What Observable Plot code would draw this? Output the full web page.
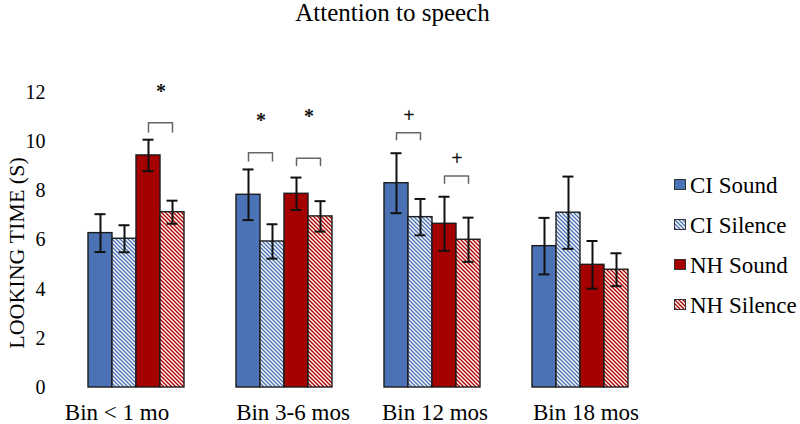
<!DOCTYPE html>
<html><head><meta charset="utf-8">
<script src="https://cdn.jsdelivr.net/npm/d3@7"></script>
<script src="https://cdn.jsdelivr.net/npm/@observablehq/plot@0.6"></script>
<style>
body{margin:0;background:#fff;}
#wrap{position:relative;width:800px;height:424px;font-family:"Liberation Serif","Times New Roman",serif;color:#000;overflow:hidden;background:#fff}
#title{height:40px;line-height:26px;font-size:25px;width:785px;text-align:center;}
#legend{position:absolute;left:674px;top:0;}
.item{position:absolute;left:0;white-space:nowrap;font-size:23px;line-height:22px;}
.item svg{vertical-align:3px;margin-right:4px}
</style></head>
<body>
<div id="wrap">
<svg width="0" height="0" style="position:absolute"><defs>
<pattern id="hatch-ci" patternUnits="userSpaceOnUse" width="4" height="4">
<rect width="4" height="4" fill="#fff"/>
<path d="M-1,-1L5,5M3,-1L5,1M-1,3L1,5" stroke="#4a72b4" stroke-width="1.4"/>
</pattern>
<pattern id="hatch-nh" patternUnits="userSpaceOnUse" width="4" height="4">
<rect width="4" height="4" fill="#fff"/>
<path d="M-1,-1L5,5M3,-1L5,1M-1,3L1,5" stroke="#b00000" stroke-width="1.4"/>
</pattern>
</defs></svg>
<div id="title">Attention to speech</div>
<div id="chart"></div>
<div id="legend"></div>
</div>
<script>
// ---- data ----
const groups = ["Bin < 1 mo", "Bin 3-6 mos", "Bin 12 mos", "Bin 18 mos"];
const series = ["CI Sound", "CI Silence", "NH Sound", "NH Silence"];
const ciSound      = [6.28, 7.84, 8.31, 5.75];
const ciSoundErr   = [0.77, 1.03, 1.22, 1.15];
const ciSilence    = [6.05, 5.94, 6.93, 7.11];
const ciSilenceErr = [0.55, 0.70, 0.74, 1.47];
const nhSound      = [9.44, 7.88, 6.66, 4.99];
const nhSoundErr   = [0.64, 0.66, 1.10, 0.97];
const nhSilence    = [7.13, 6.96, 6.01, 4.79];
const nhSilenceErr = [0.47, 0.62, 0.90, 0.67];
const yTicks = [0, 2, 4, 6, 8, 10, 12];
const yLabel = "LOOKING TIME (S)";
const title = "Attention to speech";
// significance annotations (bracket between two adjacent bars)
const sigGroup = ["Bin < 1 mo", "Bin 3-6 mos", "Bin 3-6 mos", "Bin 12 mos", "Bin 12 mos"];
const sigFrom  = ["NH Sound", "CI Sound", "NH Sound", "CI Sound", "NH Sound"];
const sigTo    = ["NH Silence", "CI Silence", "NH Silence", "CI Silence", "NH Silence"];
const sigTop   = [10.77, 9.55, 9.33, 10.36, 8.60];
const sigFoot  = [10.39, 9.21, 9.03, 10.08, 8.31];
const sigLabel = ["*", "*", "*", "+", "+"];
const sigLabelY = [12.05, 10.86, 11.00, 11.07, 9.33];

// ---- styles ----
const fills = ["#4a72b4", "url(#hatch-ci)", "#a50000", "url(#hatch-nh)"];
const labelNudge = [-19, 9, 3, 6];
const font = "'Liberation Serif','Times New Roman',serif";

document.getElementById("title").textContent = title;

const means = [ciSound, ciSilence, nhSound, nhSilence];
const errs = [ciSoundErr, ciSilenceErr, nhSoundErr, nhSilenceErr];
const rows = [];
groups.forEach((g, i) => series.forEach((s, j) => rows.push({group: g, series: s, mean: means[j][i], err: errs[j][i]})));
const sig = sigGroup.map((g, k) => ({k, group: g, from: sigFrom[k], to: sigTo[k], top: sigTop[k], foot: sigFoot[k], label: sigLabel[k], labelY: sigLabelY[k]}));
const brackets = sig.flatMap(d => [
  {k: d.k, group: d.group, series: d.from, y: d.foot},
  {k: d.k, group: d.group, series: d.from, y: d.top},
  {k: d.k, group: d.group, series: d.to, y: d.top},
  {k: d.k, group: d.group, series: d.to, y: d.foot}
]);

const chart = Plot.plot({
  width: 800, height: 384,
  marginLeft: 61, marginRight: 145, marginTop: 52, marginBottom: 37,
  style: {fontFamily: font, background: "transparent", color: "#000", overflow: "visible"},
  fx: {domain: groups, paddingInner: 0.33, paddingOuter: 0.165, label: null},
  x: {domain: series, padding: 0, axis: null},
  y: {domain: [0, 12]},
  color: {domain: series, range: fills},
  marks: [
    Plot.barY(rows, {fx: "group", x: "series", y: "mean", fill: "series", stroke: "#1c1c1c", strokeWidth: 1.4}),
    Plot.ruleX(rows, {fx: "group", x: "series", y1: d => d.mean - d.err, y2: d => d.mean + d.err, stroke: "#111", strokeWidth: 2}),
    Plot.tickY(rows, {fx: "group", x: "series", y: d => d.mean + d.err, inset: 6.5, stroke: "#111", strokeWidth: 2}),
    Plot.tickY(rows, {fx: "group", x: "series", y: d => d.mean - d.err, inset: 6.5, stroke: "#111", strokeWidth: 2}),
    Plot.line(brackets, {fx: "group", x: "series", y: "y", z: "k", stroke: "#666", strokeWidth: 1.5}),
    Plot.text(sig, {fx: "group", x: "from", y: "labelY", text: "label", dx: 12.5, fontSize: 20, fontWeight: "bold", fill: "#111", fontFamily: font}),
    Plot.axisY({ticks: yTicks, tickSize: 0, tickPadding: 16, dx: -25, fontSize: 20, fontFamily: font, label: null, fill: "#000"}),
    Plot.text([yLabel], {fx: () => groups[0], frameAnchor: "left", textAnchor: "middle", rotate: -90, dx: -70, dy: 13, fontSize: 22, fontFamily: font, fill: "#000"}),
    ...groups.map((g, i) => Plot.axisFx({anchor: "bottom", ticks: [g], tickSize: 0, tickPadding: 16, fontSize: 23, fontFamily: font, fill: "#000", dx: labelNudge[i], label: null}))
  ]
});
document.getElementById("chart").appendChild(chart);

// legend
const legend = d3.select("#legend");
series.forEach((s, i) => {
  const item = legend.append("div").attr("class", "item").style("top", (175 + i * 40) + "px");
  const sw = item.append("svg").attr("width", 12).attr("height", 11);
  sw.append("rect").attr("x", 0.5).attr("y", 0.5).attr("width", 11).attr("height", 10)
    .attr("fill", fills[i]).attr("stroke", "#333").attr("stroke-width", 1);
  item.append("span").text(s);
});
</script>
</body></html>
